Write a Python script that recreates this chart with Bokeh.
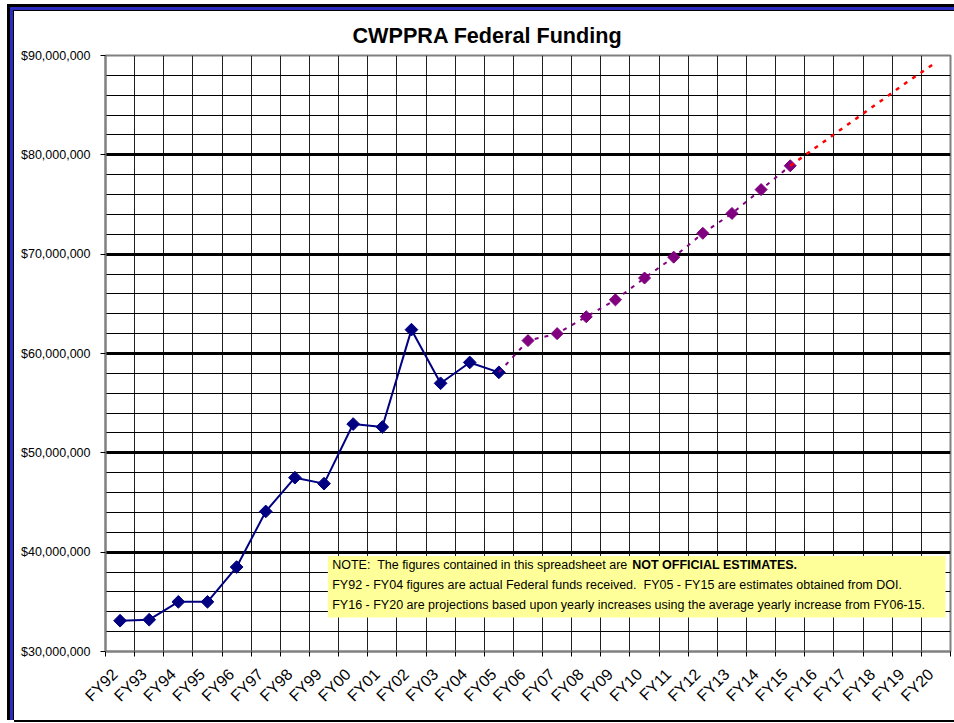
import math
from bokeh.plotting import figure
from bokeh.models import (FixedTicker, NumeralTickFormatter, BoxAnnotation, Label,
                          Range1d)
from bokeh.embed import file_html
from bokeh.resources import INLINE

# ---- data ----
categories = ["FY92", "FY93", "FY94", "FY95", "FY96", "FY97", "FY98", "FY99", "FY00",
              "FY01", "FY02", "FY03", "FY04", "FY05", "FY06", "FY07", "FY08", "FY09",
              "FY10", "FY11", "FY12", "FY13", "FY14", "FY15", "FY16", "FY17", "FY18",
              "FY19", "FY20"]
actual_years = categories[0:14]          # FY92 - FY05
actual_values = [33.1e6, 33.2e6, 35.0e6, 35.0e6, 38.5e6, 44.1e6, 47.5e6, 46.9e6,
                 52.9e6, 52.6e6, 62.4e6, 57.0e6, 59.1e6, 58.1e6]
estimate_years = categories[13:24]       # FY05 - FY15 (line starts at FY05)
estimate_values = [58.1e6, 61.3e6, 62.0e6, 63.7e6, 65.4e6, 67.6e6, 69.7e6, 72.1e6,
                   74.1e6, 76.5e6, 78.9e6]
projection_years = categories[23:29]     # FY15 - FY20
projection_values = [78.9e6, 81.0e6, 83.1e6, 85.2e6, 87.3e6, 89.3e6]
y_ticks = [30e6, 40e6, 50e6, 60e6, 70e6, 80e6, 90e6]
y_minor = [30e6 + 2e6 * i for i in range(31)]
title_text = "CWPPRA Federal Funding"

FONT = "Liberation Sans"

idx = {c: i + 0.5 for i, c in enumerate(categories)}
bounds = list(range(len(categories) + 1))
LABEL_SHIFT = -0.18   # rotated label anchor slightly left of the category centre
label_pos = {c: round(idx[c] + LABEL_SHIFT, 3) for c in categories}

p = figure(width=940, height=709, x_range=Range1d(0, len(categories)),
           y_range=Range1d(y_ticks[0], y_ticks[-1]),
           output_backend="svg", toolbar_location=None,
           min_border_left=91, min_border_right=4, min_border_top=44, min_border_bottom=69,
           background_fill_color="white", border_fill_color="white",
           outline_line_color="#808080", outline_line_width=2,
           title=title_text)
p.margin = (11, 0, 0, 14)
p.styles = {"box-shadow": ("-0.5px -0.5px 0 0.5px #000000, "
                           "-2px -2px 0 2px #2B2BC0, "
                           "-3.5px -3.5px 0 3.5px #000000, "
                           "0 2px 0 0 #000000")}

p.title.align = "left"
p.title.offset = 247
p.title.standoff = 16
p.title.text_font = FONT
p.title.text_font_size = "21.6px"
p.title.text_font_style = "bold"
p.title.text_color = "black"

# x axis
p.xaxis.ticker = FixedTicker(ticks=list(label_pos.values()), minor_ticks=bounds)
p.xaxis.major_label_overrides = {label_pos[c]: c for c in categories}
p.xaxis.major_tick_out = 0
p.xaxis.major_tick_in = 0
p.xaxis.minor_tick_out = 5
p.xaxis.minor_tick_in = 0
p.xaxis.minor_tick_line_color = "black"
p.xaxis.axis_line_color = "#808080"
p.xaxis.axis_line_width = 2
p.xaxis.major_label_orientation = math.pi / 4
p.xaxis.major_label_text_font = FONT
p.xaxis.major_label_text_font_size = "16px"
p.xaxis.major_label_text_color = "black"
p.xaxis.major_label_standoff = 15

# y axis
p.yaxis.ticker = FixedTicker(ticks=y_ticks, minor_ticks=[])
p.yaxis.formatter = NumeralTickFormatter(format="$0,0")
p.yaxis.major_tick_out = 5
p.yaxis.major_tick_in = 0
p.yaxis.major_tick_line_color = "black"
p.yaxis.minor_tick_out = 0
p.yaxis.minor_tick_in = 0
p.yaxis.axis_line_color = "#808080"
p.yaxis.axis_line_width = 2
p.yaxis.major_label_text_font = FONT
p.yaxis.major_label_text_font_size = "12.5px"
p.yaxis.major_label_text_color = "black"
p.yaxis.major_label_standoff = 10

# grids
p.xgrid.ticker = FixedTicker(ticks=bounds[1:-1])
p.xgrid.grid_line_color = "#202020"
p.xgrid.grid_line_width = 1
p.ygrid.ticker = FixedTicker(ticks=y_ticks[1:-1],
                             minor_ticks=[v for v in y_minor if v not in y_ticks])
p.ygrid.grid_line_color = "black"
p.ygrid.grid_line_width = 3
p.ygrid.minor_grid_line_color = "black"
p.ygrid.minor_grid_line_width = 1

# series
ax = [idx[c] for c in actual_years]
p.line(ax, actual_values, line_color="#000080", line_width=2)
p.scatter(ax, actual_values, marker="square", angle=math.pi / 4, size=9,
          fill_color="#000080", line_color="#000080")

ex = [idx[c] for c in estimate_years]
p.line(ex, estimate_values, line_color="#800080", line_width=2, line_dash="4 6")
p.scatter(ex[1:], estimate_values[1:], marker="square", angle=math.pi / 4, size=8.5,
          fill_color="#800080", line_color="#800080")

px_ = [idx[c] for c in projection_years]
p.line(px_, projection_values, line_color="#FF0000", line_width=2.5, line_dash="4 6")

# note box (position in plot coordinates)
box_left, box_right = 7.63, 28.83
box_bottom, box_top = 33.43e6, 39.61e6
p.add_layout(BoxAnnotation(left=box_left, right=box_right, bottom=box_bottom, top=box_top,
                           fill_color="#FFFF99", fill_alpha=1.0, line_color=None))

note_lines = [
    "NOTE:\u00a0 The figures contained in this spreadsheet are ",
    "FY92 - FY04 figures are actual Federal funds received.\u00a0 FY05 - FY15 are estimates obtained from DOI.",
    "FY16 - FY20 are projections based upon yearly increases using the average yearly increase from FY06-15.",
]
note_bold = "NOT OFFICIAL ESTIMATES."
offsets = [-9.3, -29.3, -48.7]
for t, yo in zip(note_lines, offsets):
    p.add_layout(Label(x=box_left, y=box_top, x_offset=4.4, y_offset=yo, text=t,
                       text_font=FONT, text_font_size="12.5px", text_color="black",
                       text_baseline="middle", text_align="left"))
p.add_layout(Label(x=box_left, y=box_top, x_offset=4.4 + 300, y_offset=offsets[0],
                   text=note_bold, text_font=FONT, text_font_size="12.5px",
                   text_font_style="bold", text_color="black",
                   text_baseline="middle", text_align="left"))

open("out.html", "w").write(file_html(p, INLINE))
